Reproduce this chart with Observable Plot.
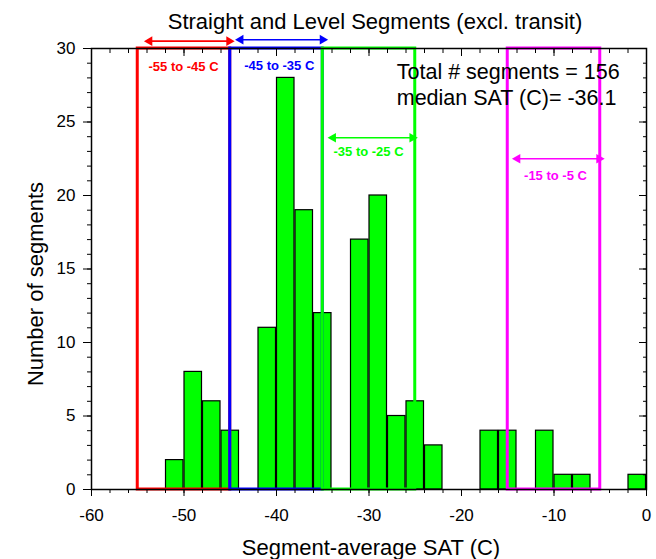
<!DOCTYPE html>
<html>
<head>
<meta charset="utf-8">
<script src="https://cdn.jsdelivr.net/npm/d3@7"></script>
<script src="https://cdn.jsdelivr.net/npm/@observablehq/plot@0.6"></script>
<style>
  html, body { margin: 0; padding: 0; background: #fff; }
  #chart svg { display: block; }
</style>
</head>
<body>
<div id="chart"></div>
<script>
// Histogram bins (left edge, bin width 2 C) and counts
const binStart = [-52, -50, -48, -46, -42, -40, -38, -36, -32, -30, -28, -26, -24, -18, -16, -12, -10, -8, -2];
const counts   = [2, 8, 6, 4, 11, 28, 19, 12, 17, 20, 5, 6, 3, 4, 4, 4, 1, 1, 1];
const binWidth = 2;

// Temperature range boxes
const rangeLabels = ["-55 to -45 C", "-45 to -35 C", "-35 to -25 C", "-15 to -5 C"];
const rangeLo     = [-55, -45, -35, -15];
const rangeHi     = [-45, -35, -25, -5];
const rangeColors = ["#ff0000", "#0000ff", "#00ff00", "#ff00ff"];
const arrowLo     = [-54.05, -44.2, -34.2, -14.27];
const arrowHi     = [-44.8, -34.7, -25.0, -4.8];
const arrowY      = [30.5, 30.6, 23.93, 22.5];
const labelX      = [-50.05, -39.7, -30.05, -9.84];
const labelY      = [28.78, 28.84, 22.95, 21.36];

// Axis ticks
const xMajor = d3.range(-60, 1, 10);
const xMinor = d3.range(-60, 1, 2);
const yMajor = d3.range(0, 31, 5);
const yMinor = d3.range(0, 31, 1);

const notes  = ["Total # segments = 156", "median SAT (C)= -36.1"];
const notesY = [28.4, 26.6];
const notesX = -27.0;

const bars = binStart.map((b, i) => ({x1: b, x2: b + binWidth, y: counts[i]}));
const ranges = rangeLabels.map((l, i) => ({
  label: l, lo: rangeLo[i], hi: rangeHi[i], color: rangeColors[i],
  alo: arrowLo[i], ahi: arrowHi[i], ay: arrowY[i], lx: labelX[i], ly: labelY[i]
}));
const noteData = notes.map((t, i) => ({t, y: notesY[i]}));

const font = "Arial, 'Liberation Sans', Helvetica, sans-serif";

const chart = Plot.plot({
  width: 656,
  height: 559,
  marginLeft: 91,
  marginRight: 10,
  marginTop: 48,
  marginBottom: 70,
  style: {fontFamily: font, fontSize: "17px", color: "#000", background: "#fff"},
  x: {domain: [-60, 0]},
  y: {domain: [0, 30]},
  marks: [
    // bars
    Plot.rectY(bars, {x1: "x1", x2: "x2", y: "y", fill: "#00ff00", stroke: "#000", strokeWidth: 1.2, insetLeft: 0.5, insetRight: 0.5}),
    // range boxes
    Plot.rect(ranges, {x1: "lo", x2: "hi", y1: 0, y2: 30, fill: "none", stroke: "color", strokeWidth: 3}),
    // double arrows: shaft + filled triangular heads
    Plot.link(ranges, {x1: "alo", x2: "ahi", y1: "ay", y2: "ay", stroke: "color", strokeWidth: 1.6, insetLeft: 3, insetRight: 3}),
    Plot.dot(ranges, {x: "ahi", y: "ay", symbol: "triangle", rotate: 90, r: 3.6, fill: "color", stroke: "none", dx: -3}),
    Plot.dot(ranges, {x: "alo", y: "ay", symbol: "triangle", rotate: -90, r: 3.6, fill: "color", stroke: "none", dx: 3}),
    Plot.text(ranges, {x: "lx", y: "ly", text: "label", fill: "color", fontWeight: "bold", fontSize: 13}),
    // notes
    Plot.text(noteData, {x: notesX, y: "y", text: "t", textAnchor: "start", fontSize: 21.5}),
    // frame
    Plot.frame({stroke: "#000", strokeWidth: 1.5}),
    // axes
    Plot.axisX({ticks: xMajor, tickSize: 7, tickPadding: 12, tickFormat: d => d, label: null, fontSize: 17}),
    Plot.axisX({ticks: xMinor, tickSize: 4, text: null, label: null}),
    Plot.axisX({anchor: "top", ticks: xMajor, tickSize: 7, dy: 7, text: null, label: null}),
    Plot.axisX({anchor: "top", ticks: xMinor, tickSize: 4, dy: 4, text: null, label: null}),
    Plot.axisY({ticks: yMajor, tickSize: 8, tickPadding: 8, label: null, fontSize: 17}),
    Plot.axisY({ticks: yMinor, tickSize: 4, text: null, label: null}),
    Plot.axisY({anchor: "right", ticks: yMajor, tickSize: 8, dx: -8, text: null, label: null}),
    Plot.axisY({anchor: "right", ticks: yMinor, tickSize: 4, dx: -4, text: null, label: null}),
    // titles
    Plot.text(["Straight and Level Segments (excl. transit)"], {frameAnchor: "top", textAnchor: "middle", lineAnchor: "middle", dx: 6, dy: -27, fontSize: 22}),
    Plot.text(["Segment-average SAT (C)"], {frameAnchor: "bottom", textAnchor: "middle", lineAnchor: "middle", dx: 2, dy: 58, fontSize: 22}),
    Plot.text(["Number of segments"], {frameAnchor: "left", textAnchor: "middle", lineAnchor: "middle", dx: -56, dy: 15, rotate: -90, fontSize: 22})
  ]
});
document.getElementById("chart").appendChild(chart);
</script>
</body>
</html>
